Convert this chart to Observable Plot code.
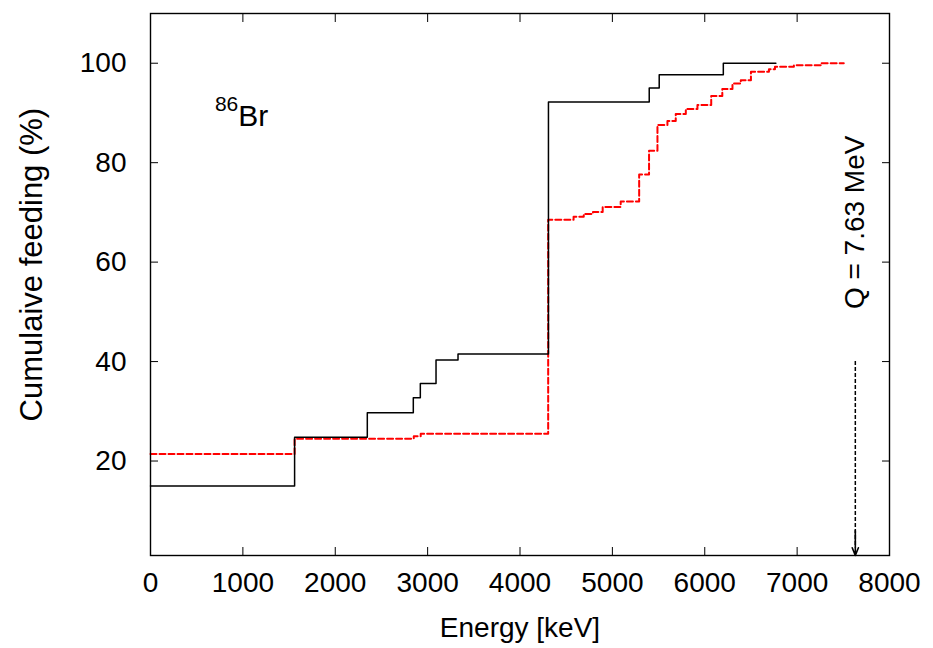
<!DOCTYPE html>
<html><head><meta charset="utf-8">
<script src="https://cdn.jsdelivr.net/npm/d3@7"></script>
<script src="https://cdn.jsdelivr.net/npm/@observablehq/plot@0.6"></script>
<style>
body{margin:0;background:#fff}
svg{font-family:"Liberation Sans",Arial,Helvetica,sans-serif}
</style>
</head><body><div id="chart"></div>
<script>
// Black solid: cumulative feeding (step-after), last point closes the final step
const blackEnergy = [0, 1560, 2347, 2845, 2921, 3091, 3329, 4308, 5399, 5507, 6201, 6770];
const blackFeeding = [15.0, 24.8, 29.7, 32.7, 35.6, 40.3, 41.5, 92.2, 95.0, 97.7, 100.0, 100.0];
// Red dashed
const redEnergy = [0, 1560, 2850, 2925, 4305, 4580, 4690, 4790, 4895, 5090, 5290, 5397, 5488, 5596, 5686, 5795, 5921, 6070, 6190, 6300, 6390, 6500, 6695, 6760, 6965, 7255, 7505];
const redFeeding = [21.4, 24.5, 25.0, 25.5, 68.5, 69.1, 69.7, 70.1, 71.1, 72.2, 77.6, 82.4, 87.6, 88.4, 89.8, 90.8, 91.6, 93.4, 94.8, 95.9, 96.6, 98.3, 98.8, 99.3, 99.6, 100.0, 100.0];

const xTicks = [0, 1000, 2000, 3000, 4000, 5000, 6000, 7000, 8000];
const yTicks = [20, 40, 60, 80, 100];
const xDomain = [0, 8000];
const yDomain = [1, 110];

const qValue = 7630;
const qLabel = "Q = 7.63 MeV";
const qArrowTop = 40;
const qLabelY = 68;
const isotopeMass = "86";
const isotopeName = "Br";
const isotopeX = 950;
const isotopeY = 89.3;
const xLabel = "Energy [keV]";
const yLabel = "Cumulaive feeding (%)";
const yLabelCenter = 59.5;

const black = blackEnergy.map((e, i) => ({e, f: blackFeeding[i]}));
const red = redEnergy.map((e, i) => ({e, f: redFeeding[i]}));

const FS = 28;
const chart = Plot.plot({
  width: 933,
  height: 648,
  marginLeft: 150,
  marginRight: 44,
  marginTop: 13,
  marginBottom: 93,
  x: {domain: xDomain},
  y: {domain: yDomain},
  style: {fontSize: FS + "px", fontFamily: '"Liberation Sans", Arial, sans-serif', color: "#000", background: "#fff"},
  marks: [
    Plot.line(red, {x: "e", y: "f", curve: "step-after", stroke: "#ff0000", strokeWidth: 2, strokeDasharray: "6,3"}),
    Plot.line(black, {x: "e", y: "f", curve: "step-after", stroke: "#000", strokeWidth: 1.5}),
    Plot.ruleX([qValue], {y1: qArrowTop, y2: yDomain[0] + 1.5, stroke: "#000", strokeWidth: 1.5, strokeDasharray: "4,2"}),
    Plot.arrow([qValue], {x1: d => d, x2: d => d, y1: yDomain[0] + 5, y2: yDomain[0], stroke: "#000", strokeWidth: 1.6, headLength: 12, headAngle: 44}),
    Plot.text([qLabel], {x: qValue, y: qLabelY, text: d => d, rotate: -90, fontSize: FS, fill: "#000"}),
    Plot.text([isotopeName], {x: isotopeX, y: isotopeY, text: d => d, textAnchor: "start", fontSize: 30, fill: "#000"}),
    Plot.text([isotopeMass], {x: isotopeX, y: isotopeY, text: d => d, textAnchor: "end", dy: -12, fontSize: 21, fill: "#000"}),
    Plot.frame({stroke: "#000", strokeWidth: 1.4}),
    // inward ticks on all four sides
    Plot.axisX({anchor: "bottom", ticks: xTicks, tickSize: -8, tickFormat: () => "", label: null}),
    Plot.axisX({anchor: "top", ticks: xTicks, tickSize: -8, tickFormat: () => "", label: null}),
    Plot.axisY({anchor: "left", ticks: yTicks, tickSize: -8, tickFormat: () => "", label: null}),
    Plot.axisY({anchor: "right", ticks: yTicks, tickSize: -8, tickFormat: () => "", label: null}),
    // tick labels and titles
    Plot.axisX({anchor: "bottom", ticks: xTicks, tickSize: 0, tickPadding: 17, tickFormat: d3.format("d"), fontSize: FS, label: xLabel, labelAnchor: "center", labelOffset: 81, labelArrow: "none"}),
    Plot.axisY({anchor: "left", ticks: yTicks, tickSize: 0, tickPadding: 24, tickFormat: d3.format("d"), fontSize: FS, label: null}),
    Plot.text([yLabel], {y: yLabelCenter, frameAnchor: "left", textAnchor: "middle", dx: -118, rotate: -90, text: d => d, fontSize: 31, fill: "#000"})
  ]
});
document.getElementById("chart").appendChild(chart);
</script>
</body></html>
